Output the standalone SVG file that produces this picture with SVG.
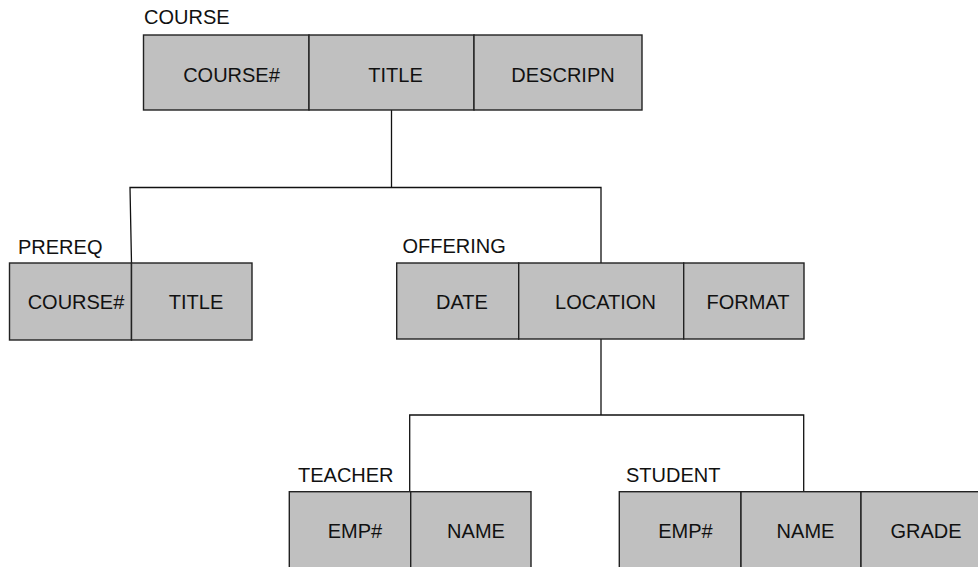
<svg xmlns="http://www.w3.org/2000/svg" width="978" height="567" viewBox="0 0 978 567">
<style>
.cell{fill:#c0c0c0;stroke:#222;stroke-width:1.4}
.conn{fill:none;stroke:#111;stroke-width:1.3}
text{font-family:"Liberation Sans",Arial,sans-serif;font-size:20px;fill:#111}
.f{text-anchor:middle}
</style>
<rect width="978" height="567" fill="#fff"/>
<g id="connectors">
<polyline class="conn" points="391.5,110 391.5,187.5"/>
<polyline class="conn" points="131.5,263 130,187.5 601,187.5 601,263"/>
<polyline class="conn" points="601,339 601,415"/>
<polyline class="conn" points="409.7,491.7 409.7,415 803.7,415 803.7,491.7"/>
</g>
<g id="course">
<text x="144" y="24">COURSE</text>
<rect class="cell" x="143.5" y="35" width="165.5" height="75"/>
<rect class="cell" x="309" y="35" width="165" height="75"/>
<rect class="cell" x="474" y="35" width="168" height="75"/>
<text class="f" x="231.5" y="81.5">COURSE#</text>
<text class="f" x="395.5" y="81.5">TITLE</text>
<text class="f" x="563" y="81.5">DESCRIPN</text>
</g>
<g id="prereq">
<text x="18" y="253.5">PREREQ</text>
<rect class="cell" x="9.5" y="263" width="122" height="77"/>
<rect class="cell" x="131.5" y="263" width="120.5" height="77"/>
<text class="f" x="76" y="309">COURSE#</text>
<text class="f" x="196" y="309">TITLE</text>
</g>
<g id="offering">
<text x="402.5" y="252.5">OFFERING</text>
<rect class="cell" x="396.7" y="263" width="122" height="76"/>
<rect class="cell" x="518.7" y="263" width="165" height="76"/>
<rect class="cell" x="683.7" y="263" width="120.3" height="76"/>
<text class="f" x="462" y="309">DATE</text>
<text class="f" x="605.5" y="309">LOCATION</text>
<text class="f" x="748" y="309">FORMAT</text>
</g>
<g id="teacher">
<text x="298" y="482">TEACHER</text>
<rect class="cell" x="289.3" y="491.7" width="121.4" height="77"/>
<rect class="cell" x="410.7" y="491.7" width="120.3" height="77"/>
<text class="f" x="355" y="537.5">EMP#</text>
<text class="f" x="476" y="537.5">NAME</text>
</g>
<g id="student">
<text x="626" y="482">STUDENT</text>
<rect class="cell" x="619.3" y="491.7" width="121.7" height="77"/>
<rect class="cell" x="741" y="491.7" width="120" height="77"/>
<rect class="cell" x="861" y="491.7" width="121" height="77"/>
<text class="f" x="685.5" y="537.5">EMP#</text>
<text class="f" x="805.5" y="537.5">NAME</text>
<text class="f" x="926" y="537.5">GRADE</text>
</g>
</svg>
